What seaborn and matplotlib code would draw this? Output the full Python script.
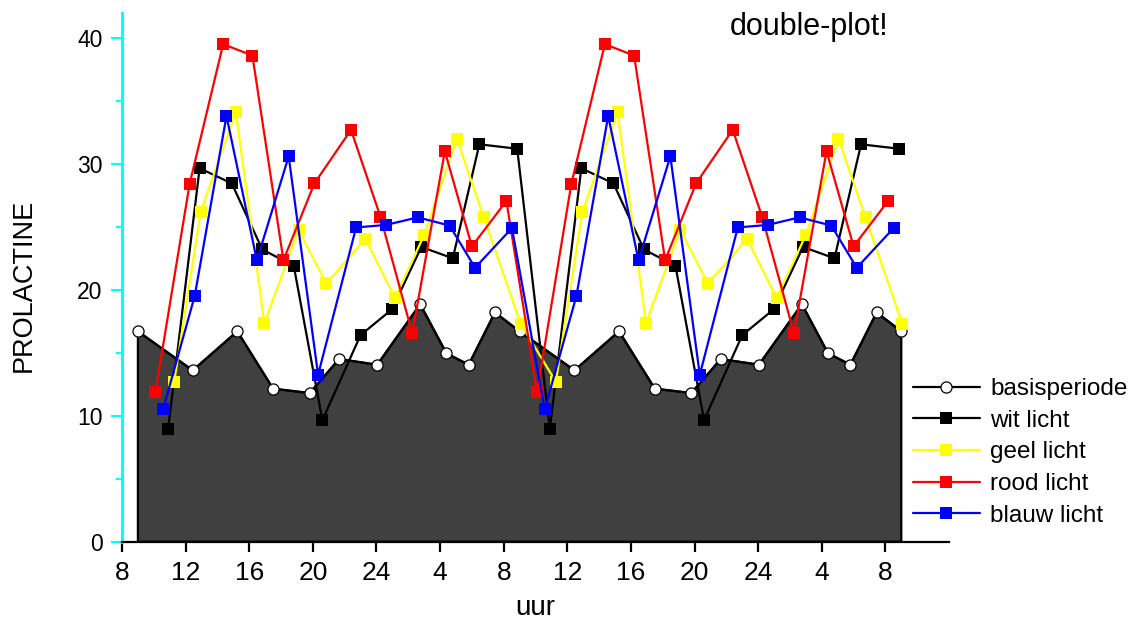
import matplotlib
matplotlib.use("Agg")
import matplotlib.pyplot as plt
import seaborn as sns
from matplotlib.ticker import MultipleLocator

# One 24-hour cycle per series; time in hours counted from 0:00 of day 1
basis_uur = [9.0, 12.45, 15.25, 17.5, 19.8, 21.65, 24.05, 26.75, 28.4, 29.8, 31.45]
basis_prl = [16.7, 13.6, 16.7, 12.15, 11.8, 14.5, 14.05, 18.85, 14.95, 14.05, 18.2]

wit_uur = [10.9, 12.88, 14.9, 16.82, 18.8, 20.6, 23.0, 24.98, 26.82, 28.8, 30.47, 32.85]
wit_prl = [8.95, 29.65, 28.45, 23.2, 21.9, 9.65, 16.4, 18.45, 23.4, 22.5, 31.55, 31.2]

geel_uur = [11.28, 12.95, 15.16, 16.95, 19.1, 20.85, 23.3, 25.16, 27.0, 29.05, 30.75, 33.07]
geel_prl = [12.7, 26.2, 34.1, 17.35, 24.75, 20.5, 24.05, 19.35, 24.35, 32.0, 25.75, 17.3]

rood_uur = [10.1, 12.25, 14.36, 16.2, 18.15, 20.1, 22.4, 24.25, 26.25, 28.3, 30.0, 32.17]
rood_prl = [11.85, 28.4, 39.5, 38.6, 22.35, 28.45, 32.7, 25.8, 16.55, 31.0, 23.45, 27.05]

blauw_uur = [10.58, 12.57, 14.57, 16.48, 18.48, 20.33, 22.72, 24.6, 26.6, 28.6, 30.2, 32.52]
blauw_prl = [10.5, 19.5, 33.8, 22.33, 30.6, 13.25, 24.95, 25.15, 25.75, 25.1, 21.75, 24.9]

tick_pos = [8, 12, 16, 20, 24, 28, 32, 36, 40, 44, 48, 52, 56]
tick_labels = ["8", "12", "16", "20", "24", "4", "8", "12", "16", "20", "24", "4", "8"]


def double_plot(uur, prl, close=False):
    """Repeat one day of samples on the following day (+24 h)."""
    x = list(uur) + [h + 24 for h in uur]
    y = list(prl) * 2
    if close:
        x.append(uur[0] + 48)
        y.append(prl[0])
    return x, y


sns.set_theme(style="white")
plt.rcParams["font.family"] = ["Liberation Sans", "DejaVu Sans"]
plt.rcParams["text.color"] = "black"
plt.rcParams["axes.labelcolor"] = "black"
plt.rcParams["xtick.labelcolor"] = "black"
plt.rcParams["ytick.labelcolor"] = "black"

fig = plt.figure(figsize=(11.42, 6.19), dpi=100)
ax = fig.add_axes([122 / 1142, 77.3 / 619, 827 / 1142, 529 / 619])

# basal period as a filled area with open circles
bx, by = double_plot(basis_uur, basis_prl, close=True)
ax.fill([bx[0]] + bx + [bx[-1]], [0] + by + [0], facecolor="#404040",
        edgecolor="black", linewidth=1.6, zorder=1)
sns.lineplot(x=bx, y=by, ax=ax, sort=False, estimator=None, color="black",
             linewidth=1.6, marker="o", markersize=8, markerfacecolor="white",
             markeredgecolor="black", markeredgewidth=0.9, label="basisperiode",
             zorder=3)

series = [
    ("wit licht", wit_uur, wit_prl, "#000000"),
    ("geel licht", geel_uur, geel_prl, "#ffff00"),
    ("rood licht", rood_uur, rood_prl, "#ff0000"),
    ("blauw licht", blauw_uur, blauw_prl, "#0000ff"),
]
for i, (name, uur, prl, kleur) in enumerate(series):
    x, y = double_plot(uur, prl)
    sns.lineplot(x=x, y=y, ax=ax, sort=False, estimator=None, color=kleur,
                 linewidth=1.6, marker="s", markersize=9, markeredgewidth=0,
                 markerfacecolor=kleur, label=name, zorder=4 + i)

handles, labels = ax.get_legend_handles_labels()
if ax.get_legend() is not None:
    ax.get_legend().remove()
fig.legend(handles, labels, loc="upper left",
           bbox_to_anchor=(913 / 1142, 1 - 378 / 619), frameon=False,
           fontsize=17.5, handlelength=2.75, handletextpad=0.42,
           labelspacing=0.4, borderpad=0, borderaxespad=0)

ax.set_xlim(8, 60)
ax.set_ylim(0, 42)
ax.set_xticks(tick_pos, tick_labels)
ax.set_yticks([0, 10, 20, 30, 40])
ax.yaxis.set_minor_locator(MultipleLocator(5))

sns.despine(ax=ax)
ax.spines["left"].set_color("#00ffff")
ax.spines["left"].set_linewidth(2.2)
ax.spines["bottom"].set_color("black")
ax.spines["bottom"].set_linewidth(1.6)

ax.tick_params(axis="y", which="major", direction="out", length=8, width=1.5,
               color="#00ffff", labelsize=16.5, pad=6, left=True)
ax.tick_params(axis="y", which="minor", direction="out", length=4, width=1.5,
               color="#00ffff", left=True)
ax.tick_params(axis="x", which="major", direction="out", length=7, width=1.6,
               color="black", labelsize=19, pad=7, bottom=True)

ax.set_xlabel("uur", fontsize=20, va="center")
ax.xaxis.set_label_coords(0.5, -0.125)
ax.set_ylabel("PROLACTINE", fontsize=19.5, va="center")
ax.yaxis.set_label_coords(-0.1185, 0.485)

fig.text(730 / 1142, 1 - 27 / 619, "double-plot!", fontsize=22,
         ha="left", va="center")

fig.savefig("out.png", dpi=100)
